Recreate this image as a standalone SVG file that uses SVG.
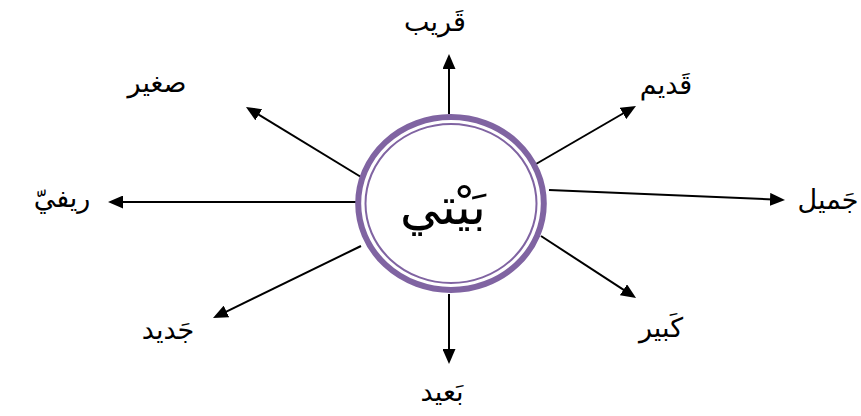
<svg xmlns="http://www.w3.org/2000/svg" width="861" height="416" viewBox="0 0 861 416">
<style>
.lbl{font-family:"DejaVu Sans","Noto Sans",sans-serif;font-size:27px;fill:#000;text-anchor:middle}
.ctr{font-family:"DejaVu Sans","Noto Sans",sans-serif;font-size:50px;fill:#000;text-anchor:middle}
.con{stroke:#000;stroke-width:2;fill:none;marker-end:url(#ah)}
</style>
<defs>
<marker id="ah" markerUnits="userSpaceOnUse" markerWidth="15" markerHeight="13" refX="3" refY="6.5" orient="auto">
<path d="M0,0 L15,6.5 L0,13 z" fill="#000"/>
</marker>
</defs>
<rect width="861" height="416" fill="#fff"/>
<g id="connectors">
<line class="con" x1="449" y1="114" x2="449" y2="66"/>
<line class="con" x1="361" y1="177" x2="256.2" y2="113.2"/>
<line class="con" x1="536" y1="164" x2="625.6" y2="112"/>
<line class="con" x1="549" y1="190" x2="773" y2="199.5"/>
<line class="con" x1="541" y1="236" x2="626" y2="291.4"/>
<line class="con" x1="449" y1="294" x2="449" y2="352"/>
<line class="con" x1="361" y1="246" x2="223.8" y2="312.8"/>
<line class="con" x1="356" y1="202" x2="120" y2="202"/>
</g>
<g id="center">
<ellipse cx="451" cy="203.5" rx="92.8" ry="86.5" fill="#fff" stroke="#8064A2" stroke-width="6"/>
<ellipse cx="451" cy="203.5" rx="85.5" ry="79.5" fill="none" stroke="#8064A2" stroke-width="2"/>
<text class="ctr" x="443" y="224">بَيْتي</text>
</g>
<g id="n-qarib"><text class="lbl" x="435" y="31">قَريب</text></g>
<g id="n-qadim"><text class="lbl" x="666" y="94">قَديم</text></g>
<g id="n-jamil"><text class="lbl" x="828" y="209">جَميل</text></g>
<g id="n-kabir"><text class="lbl" x="661" y="337">كَبير</text></g>
<g id="n-baid"><text class="lbl" x="442" y="401">بَعيد</text></g>
<g id="n-jadid"><text class="lbl" x="168" y="339">جَديد</text></g>
<g id="n-rifi"><text class="lbl" x="62" y="207">ريفيّ</text></g>
<g id="n-saghir"><text class="lbl" x="157" y="92">صغير</text></g>
</svg>
